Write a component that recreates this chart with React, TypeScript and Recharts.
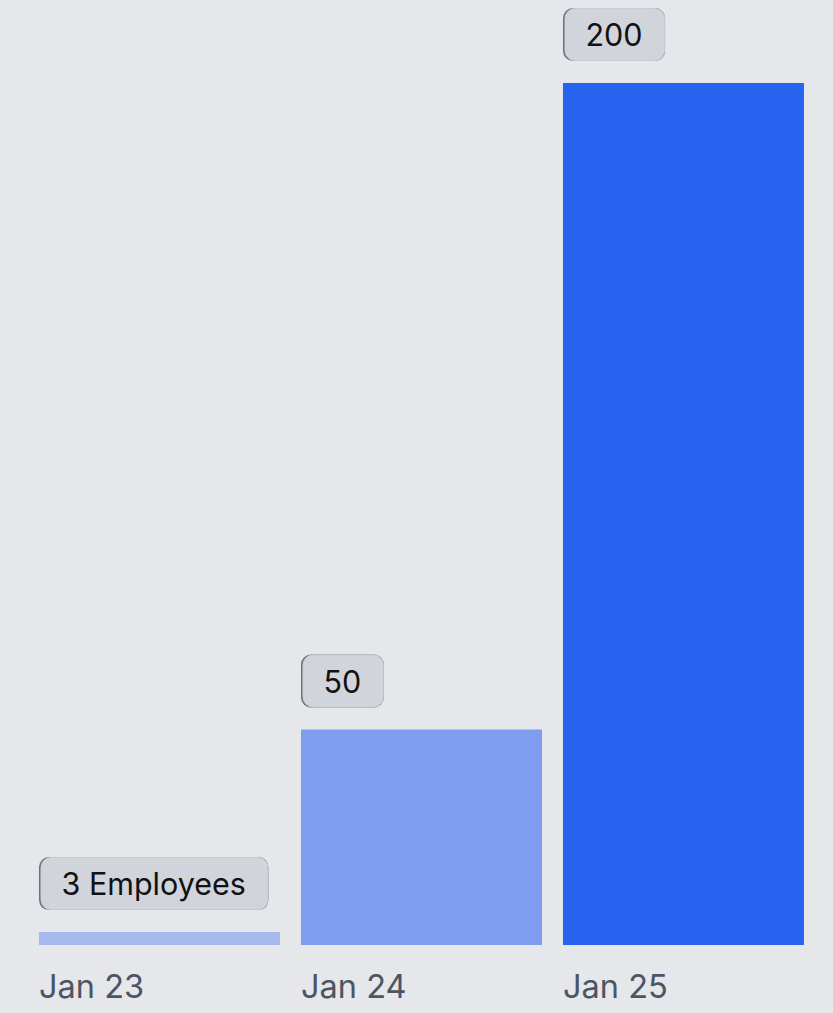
import React from "react"
import { BarChart, Bar, XAxis, YAxis, Cell, LabelList } from "recharts"

// values
const months = ["Jan 23", "Jan 24", "Jan 25"]
const employees = [3, 50, 200]
const barColors = ["#a6b9ec", "#7e9def", "#2863f0"]
const unit = "Employees"

const data = months.map((month, i) => ({ month, employees: employees[i] }))

const LABEL_FONT = "Inter, 'Noto Sans', sans-serif"
const LABEL_SIZE = 30.5

let canvas: HTMLCanvasElement | null = null
const textWidth = (text: string, font: string) => {
  if (!canvas) canvas = document.createElement("canvas")
  const ctx = canvas.getContext("2d")
  if (!ctx) return text.length * 17
  ctx.font = font
  return ctx.measureText(text).width
}

const ValueLabel = (props: any) => {
  const { x, y, index, value } = props
  const text = index === 0 ? `${value} ${unit}` : `${value}`
  const w = textWidth(text, `${LABEL_SIZE}px ${LABEL_FONT}`) + 45
  const h = 53
  const top = y - 22 - h
  return (
    <g>
      <rect x={x} y={top} width={w} height={h} rx={10} fill="#6b7280" />
      <rect x={x + 2} y={top + 0.5} width={w - 2.5} height={h - 1} rx={10} fill="#d1d5db" stroke="#c9cdd4" strokeWidth={1} />
      <text
        x={x + 22.5}
        y={top + h / 2}
        dominantBaseline="central"
        fontFamily={LABEL_FONT}
        fontSize={LABEL_SIZE}
        fill="#111111"
      >
        {text}
      </text>
    </g>
  )
}

const MonthTick = (props: any) => {
  const { x, y, payload } = props
  return (
    <text
      x={x - 120.5}
      y={y + 33}
      fontFamily={LABEL_FONT}
      fontSize={32.5}
      fill="#4b5563"
      dominantBaseline="central"
    >
      {payload.value}
    </text>
  )
}

export default function App() {
  return (
    <div
      style={{
        position: "absolute",
        left: 0,
        top: 0,
        width: 833,
        height: 1013,
        background: "#e5e7eb",
        overflow: "hidden",
      }}
    >
      <BarChart
        width={833}
        height={1013}
        data={data}
        margin={{ top: 83, right: 18.5, bottom: 0, left: 28.5 }}
        barCategoryGap="4%"
        style={{ overflow: "visible" }}
      >
        <XAxis
          dataKey="month"
          height={68}
          axisLine={false}
          tickLine={false}
          tick={<MonthTick />}
          interval={0}
        />
        <YAxis hide domain={[0, 200]} />
        <Bar dataKey="employees" isAnimationActive={false}>
          {data.map((entry, index) => (
            <Cell key={`cell-${index}`} fill={barColors[index]} />
          ))}
          <LabelList dataKey="employees" content={<ValueLabel />} />
        </Bar>
      </BarChart>
    </div>
  )
}
